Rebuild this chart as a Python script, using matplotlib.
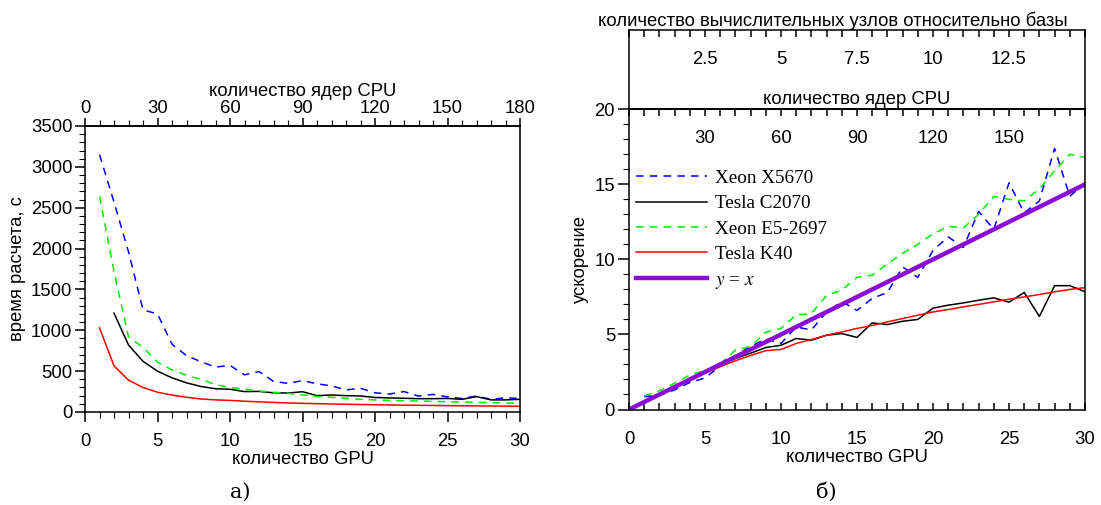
import matplotlib
matplotlib.use('Agg')
import matplotlib.pyplot as plt
from matplotlib.ticker import MultipleLocator, FixedLocator

# Data
gpu = list(range(1, 31))
gpu_from2 = list(range(2, 31))

# left panel: computation time, s
time_xeon_x5670 = [3150, 2570, 1960, 1250, 1200, 830, 690, 615, 550, 570,
                   455, 495, 375, 350, 385, 345, 320, 270, 290, 235,
                   220, 250, 195, 215, 185, 165, 195, 155, 175, 165]
time_tesla_c2070 = [1210, 820, 620, 500, 418, 357, 312, 285, 278,
                    250, 252, 235, 232, 248, 200, 208, 200, 196, 178,
                    172, 168, 163, 163, 166, 155, 188, 148, 148, 155]
time_xeon_e5 = [2640, 1720, 920, 790, 610, 515, 450, 400, 335, 300,
                280, 258, 242, 228, 208, 190, 180, 168, 156, 148,
                142, 138, 134, 130, 126, 122, 118, 114, 110, 106]
time_tesla_k40 = [1030, 565, 390, 300, 242, 207, 180, 160, 148, 142,
                  132, 124, 117, 111, 106, 102, 98, 95, 92, 89,
                  86, 84, 82, 80, 78, 76, 75, 73, 72, 70]

# right panel: speedup
speedup_xeon_x5670 = [0.85, 0.95, 1.3, 1.8, 2.1, 2.9, 3.6, 4.2, 4.7, 4.4,
                      5.5, 5.3, 6.5, 7.2, 6.6, 7.4, 7.8, 9.5, 8.8, 10.6,
                      11.5, 10.8, 13.2, 12.0, 15.1, 13.1, 13.9, 17.4, 14.2, 15.1]
speedup_tesla_c2070 = [1.0, 1.5, 2.0, 2.5, 2.95, 3.4, 3.75, 4.13, 4.28,
                       4.73, 4.62, 4.95, 5.06, 4.8, 5.77, 5.66, 5.88, 6.0, 6.75,
                       6.95, 7.1, 7.28, 7.44, 7.15, 7.8, 6.2, 8.25, 8.25, 7.85]
speedup_xeon_e5 = [0.9, 1.25, 1.75, 2.3, 2.6, 3.05, 3.95, 4.2, 5.15, 5.4,
                   6.3, 6.4, 7.6, 7.95, 8.8, 8.95, 9.7, 10.4, 11.0, 11.7,
                   12.2, 12.1, 13.0, 14.2, 14.0, 13.9, 14.7, 15.9, 17.0, 16.8]
speedup_tesla_k40 = [0.5, 1.0, 1.47, 1.95, 2.42, 2.85, 3.25, 3.6, 3.92, 4.0,
                     4.4, 4.66, 4.95, 5.17, 5.4, 5.6, 5.84, 6.06, 6.28, 6.5,
                     6.66, 6.84, 7.0, 7.17, 7.35, 7.5, 7.66, 7.84, 8.0, 8.12]
ideal_x = [0, 30]
ideal_y = [0, 15]

labels = ['Xeon X5670', 'Tesla C2070', 'Xeon E5-2697', 'Tesla K40', '$y$ = $x$']

# Styles
BLUE, BLACK, GREEN, RED, PURPLE = '#0000ff', '#000000', '#00ee00', '#ff0000', '#8a0cd6'
DASH = (0, (5, 4))
plt.rcParams['font.family'] = ['Liberation Sans', 'DejaVu Sans']
plt.rcParams['font.size'] = 13.3
plt.rcParams['mathtext.fontset'] = 'stix'
plt.rcParams['axes.linewidth'] = 1.1

W, H = 1101, 505
fig = plt.figure(figsize=(W / 100, H / 100), dpi=100)


def frac(x0, y0, x1, y1):
    " pixel box -> figure fractions"
    return [x0 / W, 1 - y1 / H, (x1 - x0) / W, (y1 - y0) / H]


# ---------------- left panel ----------------
ax = fig.add_axes(frac(85, 126, 520, 412))
ax.plot(gpu, time_xeon_x5670, color=BLUE, lw=1.1, linestyle=DASH)
ax.plot(gpu_from2, time_tesla_c2070, color=BLACK, lw=1.1)
ax.plot(gpu, time_xeon_e5, color=GREEN, lw=1.1, linestyle=DASH)
ax.plot(gpu, time_tesla_k40, color=RED, lw=1.1)
ax.set_xlim(0, 30)
ax.set_ylim(0, 3500)
ax.xaxis.set_major_locator(MultipleLocator(5))
ax.xaxis.set_minor_locator(MultipleLocator(1))
ax.yaxis.set_major_locator(MultipleLocator(500))
ax.yaxis.set_minor_locator(MultipleLocator(100))
ax.tick_params(which='major', direction='out', length=7, width=1.1, pad=2)
ax.tick_params(which='minor', direction='out', length=4, width=0.8)
ax.tick_params(axis='x', which='major', pad=8)
ax.set_xlabel('количество GPU', labelpad=1)
ax.set_ylabel('время расчета, с')
ax.yaxis.set_label_coords(-0.136, 0.5)

top = ax.secondary_xaxis('top', functions=(lambda x: 6 * x, lambda x: x / 6))
top.xaxis.set_major_locator(MultipleLocator(30))
top.xaxis.set_minor_locator(MultipleLocator(6))
top.tick_params(which='major', direction='out', length=6, width=1.1, pad=0.5)
top.tick_params(which='minor', direction='out', length=4, width=0.8)
top.set_xlabel('количество ядер CPU', labelpad=3)

# ---------------- right panel ----------------
box = fig.add_axes(frac(629, 30, 1085, 109.3))
box.set_facecolor('none')
box.set_xlim(0, 15)
box.set_ylim(0, 1)
box.set_yticks([])
box.xaxis.set_major_locator(FixedLocator([2.5, 5, 7.5, 10, 12.5]))
box.xaxis.set_minor_locator(MultipleLocator(0.5))
box.xaxis.set_major_formatter(lambda v, p: ('%g' % v))
box.tick_params(axis='x', which='both', bottom=False, labelbottom=False,
                top=True, labeltop=True, direction='in', length=5, width=1.1)
box.tick_params(axis='x', which='major', pad=-27.5)
box.xaxis.set_label_position('top')
box.set_xlabel('количество вычислительных узлов относительно базы', labelpad=0.5)
box.xaxis.set_label_coords(0.446, 1.0)
box.xaxis.label.set_va('bottom')

ax2 = fig.add_axes(frac(629, 109.3, 1085, 409.5))
ax2.set_facecolor('none')
ax2.plot(gpu, speedup_xeon_x5670, color=BLUE, lw=1.1, linestyle=DASH, label=labels[0])
ax2.plot(gpu_from2, speedup_tesla_c2070, color=BLACK, lw=1.1, label=labels[1])
ax2.plot(gpu, speedup_xeon_e5, color=GREEN, lw=1.1, linestyle=DASH, label=labels[2])
ax2.plot(gpu, speedup_tesla_k40, color=RED, lw=1.1, label=labels[3])
ax2.plot(ideal_x, ideal_y, color=PURPLE, lw=3.2, label=labels[4])
ax2.set_xlim(0, 30)
ax2.set_ylim(0, 20)
ax2.xaxis.set_major_locator(MultipleLocator(5))
ax2.xaxis.set_minor_locator(MultipleLocator(1))
ax2.yaxis.set_major_locator(MultipleLocator(5))
ax2.yaxis.set_minor_locator(MultipleLocator(1))
ax2.tick_params(axis='x', which='both', direction='in', length=5, width=1.1)
ax2.tick_params(axis='x', which='major', pad=15.5)
ax2.tick_params(axis='y', which='major', direction='out', length=8, width=1.1, pad=2)
ax2.tick_params(axis='y', which='minor', direction='out', length=4, width=0.8)
ax2.set_xlabel('количество GPU', labelpad=1)
ax2.set_ylabel('ускорение')
ax2.yaxis.set_label_coords(-0.0877, 0.5)

top2 = ax2.secondary_xaxis('top', functions=(lambda x: 6 * x, lambda x: x / 6))
top2.xaxis.set_major_locator(FixedLocator([30, 60, 90, 120, 150]))
top2.xaxis.set_minor_locator(MultipleLocator(6))
top2.tick_params(which='both', direction='in', length=5, width=1.1)
top2.tick_params(which='major', pad=-27.5)
top2.set_xlabel('количество ядер CPU', labelpad=0.5)

leg = ax2.legend(loc='upper left', bbox_to_anchor=(0.0154, 0.800), frameon=False,
                 prop={'family': 'Liberation Serif', 'size': 13.8},
                 handlelength=3.7, handletextpad=0.4, labelspacing=0.42,
                 borderpad=0, borderaxespad=0)

# captions
fig.text(240 / W, 1 - 492 / H, 'а)', ha='center', va='center',
         family='DejaVu Serif', fontsize=15)
fig.text(826 / W, 1 - 492 / H, 'б)', ha='center', va='center',
         family='DejaVu Serif', fontsize=15)

fig.savefig('out.png', dpi=100)
